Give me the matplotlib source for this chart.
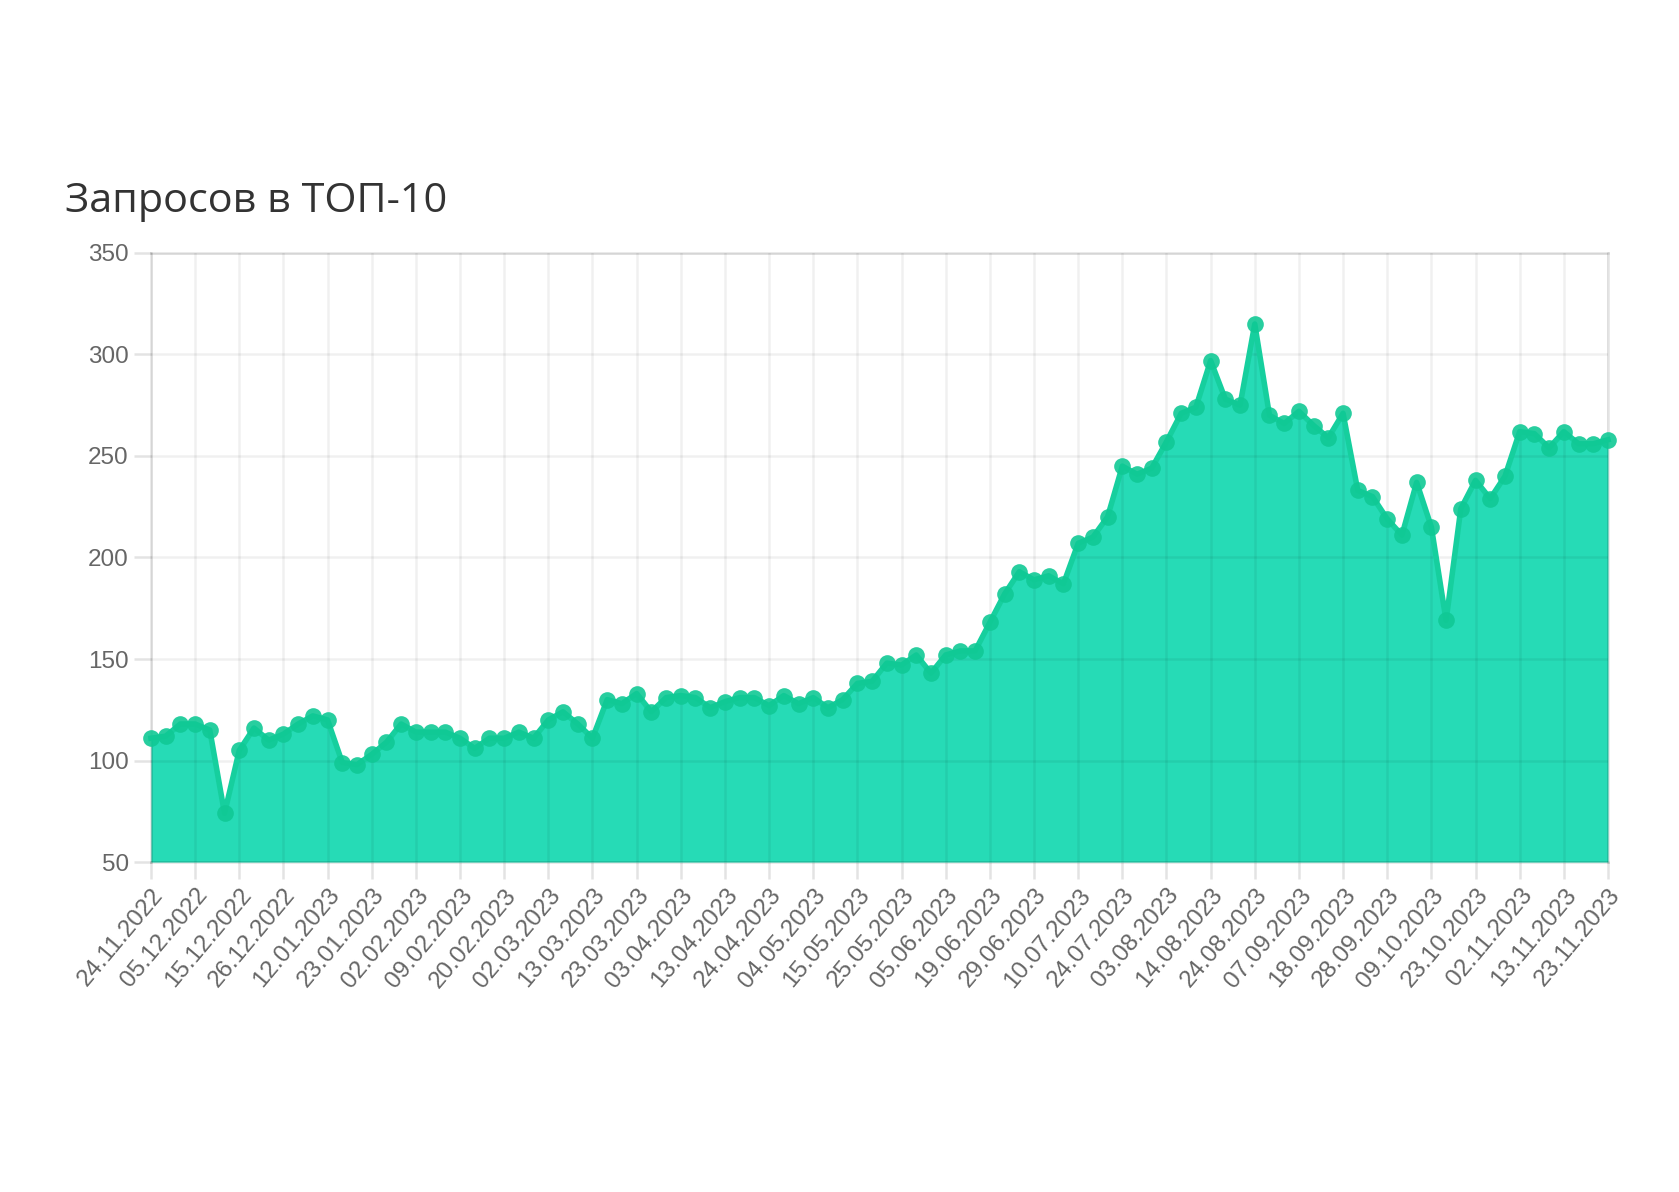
import numpy as np
import matplotlib.pyplot as plt

# Tick labels (every 3rd point)
labels = ['24.11.2022','05.12.2022','15.12.2022','26.12.2022','12.01.2023','23.01.2023',
          '02.02.2023','09.02.2023','20.02.2023','02.03.2023','13.03.2023','23.03.2023',
          '03.04.2023','13.04.2023','24.04.2023','04.05.2023','15.05.2023','25.05.2023',
          '05.06.2023','19.06.2023','29.06.2023','10.07.2023','24.07.2023','03.08.2023',
          '14.08.2023','24.08.2023','07.09.2023','18.09.2023','28.09.2023','09.10.2023',
          '23.10.2023','02.11.2023','13.11.2023','23.11.2023']

# Requests in TOP-10
values = [111, 112, 118, 118, 115, 74, 105, 116, 110, 113,
          118, 122, 120, 99, 98, 103, 109, 118, 114, 114,
          114, 111, 106, 111, 111, 114, 111, 120, 124, 118,
          111, 130, 128, 133, 124, 131, 132, 131, 126, 129,
          131, 131, 127, 132, 128, 131, 126, 130, 138, 139,
          148, 147, 152, 143, 152, 154, 154, 168, 182, 193,
          189, 191, 187, 207, 210, 220, 245, 241, 244, 257,
          271, 274, 297, 278, 275, 315, 270, 266, 272, 265,
          259, 271, 233, 230, 219, 211, 237, 215, 169, 224,
          238, 229, 240, 262, 261, 254, 262, 256, 256, 258]

x = np.arange(len(values))

plt.rcParams['font.family'] = ['Liberation Sans', 'DejaVu Sans']
fig = plt.figure(figsize=(16.79, 11.92), dpi=100)
ax = fig.add_axes([0.0899, 0.2768, 0.8678, 0.5110])

gridc = (0, 0, 0, 0.11)
ax.fill_between(x, values, 50, color='#26dbb6', lw=0, zorder=1)
ax.plot(x, values, '-', color='#16cf9e', lw=4, zorder=3, clip_on=False)
ax.plot(x, values, 'o', color='#10c995', ms=12, mew=0, zorder=4, alpha=0.9, clip_on=False)

ax.set_xlim(0, len(values) - 1)
ax.set_ylim(50, 350)
ax.set_yticks(np.arange(50, 351, 50))
ax.set_xticks(x[::3])
ax.set_xticklabels(labels, rotation=50, ha='right', rotation_mode='anchor')

ax.grid(True, color='black', alpha=0.06, lw=1.8)
ax.set_axisbelow(False)
for s in ax.spines.values():
    s.set_color(gridc)
    s.set_linewidth(1.8)
ax.tick_params(length=12, width=1.8, color=gridc, labelcolor='#666666', labelsize=17.5, pad=4)

fig.text(0.039, 0.822, 'Запросов в ТОП-10', fontsize=29.8, color='#333333',
         family=['Open Sans', 'DejaVu Sans'], va='baseline')

fig.savefig('out.png', dpi=100, facecolor='white')
